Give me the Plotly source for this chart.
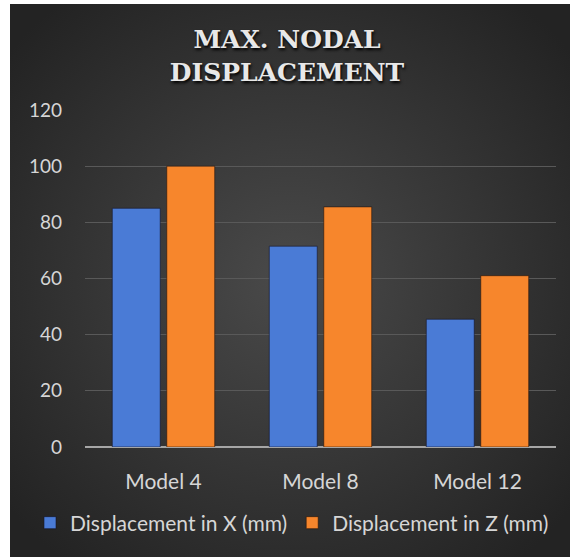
import base64
import plotly.graph_objects as go

categories = ["Model 4", "Model 8", "Model 12"]
disp_x = [85, 71.5, 45.5]
disp_z = [100, 85.5, 61]
series_names = ["Displacement in X (mm)", "Displacement in Z (mm)"]
y_ticks = [0, 20, 40, 60, 80, 100, 120]

svg = (
    '<svg xmlns="http://www.w3.org/2000/svg" width="560" height="553" viewBox="0 0 560 553">'
    '<defs><radialGradient id="g" cx="50%" cy="50%" r="65%">'
    '<stop offset="0%" stop-color="#4a4a4a"/><stop offset="100%" stop-color="#232323"/>'
    '</radialGradient></defs><rect width="560" height="553" fill="url(#g)"/></svg>'
)
bg_src = "data:image/svg+xml;base64," + base64.b64encode(svg.encode()).decode()

fig = go.Figure()
fig.add_trace(go.Bar(
    x=categories, y=disp_x, name=series_names[0],
    marker=dict(color="#4a7bd6", line=dict(color="rgba(20,20,40,0.6)", width=1)),
))
fig.add_trace(go.Bar(
    x=categories, y=disp_z, name=series_names[1],
    marker=dict(color="#f7862c", line=dict(color="rgba(40,20,10,0.6)", width=1)),
))

# plot area: x 85..556, y 110..447 px
L, R, T, B = 85, 556, 110, 447
W, H = R - L, B - T
def px_x(p):
    return (p - L) / W
def px_y(p):
    return (B - p) / H

fig.add_layout_image(dict(
    source=bg_src, xref="paper", yref="paper",
    x=px_x(10), y=px_y(4), sizex=px_x(570) - px_x(10), sizey=px_y(4) - px_y(557),
    xanchor="left", yanchor="top", sizing="stretch", layer="below",
))

fig.update_layout(
    width=574, height=557,
    margin=dict(l=L, r=574 - R, t=T, b=557 - B, autoexpand=False),
    paper_bgcolor="white",
    plot_bgcolor="rgba(0,0,0,0)",
    barmode="group", bargap=0.306, bargroupgap=0.12,
    title=dict(
        text="MAX. NODAL<br>DISPLACEMENT",
        x=0.5, xref="container", xanchor="center",
        y=1 - 48 / 557, yref="container", yanchor="middle",
        font=dict(family="DejaVu Serif", size=25, color="#e8e8e8", weight="bold",
                  shadow="1px 2px 3px #000000"),
    ),
    font=dict(family="Lato", color="#d6d6d6"),
    xaxis=dict(
        showgrid=False, showline=False, ticks="", zeroline=False, automargin=False,
        ticklabelstandoff=20,
        tickfont=dict(size=21, color="#d6d6d6"),
    ),
    yaxis=dict(
        range=[0, 120], tickvals=y_ticks, showgrid=True, gridcolor="#595959", gridwidth=1,
        zeroline=True, zerolinecolor="#a6a6a6", zerolinewidth=2, showline=False,
        ticks="", ticklabelstandoff=22, automargin=False,
        tickfont=dict(size=19, color="#d6d6d6"),
    ),
    legend=dict(
        orientation="h", xref="paper", x=px_x(30), xanchor="left",
        yref="paper", y=px_y(523), yanchor="middle",
        font=dict(size=21, color="#d6d6d6"), bgcolor="rgba(0,0,0,0)",
        itemwidth=30, tracegroupgap=0,
    ),
)

fig.write_html(
    "out.html",
    config={"displayModeBar": False},
    post_script="document.body.style.margin='0';document.body.style.overflow='hidden';",
)
